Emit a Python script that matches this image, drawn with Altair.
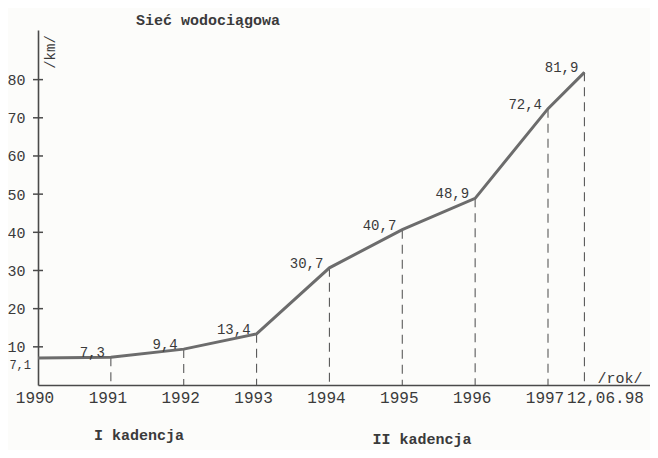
import altair as alt
import pandas as pd

# ---- data ----
x_pos = [1990, 1991, 1992, 1993, 1994, 1995, 1996, 1997, 1997.5]
values = [7.1, 7.3, 9.4, 13.4, 30.7, 40.7, 48.9, 72.4, 81.9]
value_labels = ["7,1", "7,3", "9,4", "13,4", "30,7", "40,7", "48,9", "72,4", "81,9"]
year_pos = [1990, 1991, 1992, 1993, 1994, 1995, 1996, 1997]
year_labels = ["1990", "1991", "1992", "1993", "1994", "1995", "1996", "1997"]
last_pos = [1997.5]
last_label = ["12,06.98"]
y_ticks = [10, 20, 30, 40, 50, 60, 70, 80]
title_text = ["Sieć wodociągowa"]
y_unit = ["/km/"]
x_unit = ["/rok/"]
term1 = ["I kadencja"]
term2 = ["II kadencja"]

# ---- style ----
FONT = "Liberation Mono"
TEXT = "#3a3a3a"
AXIS = "#4a4a4a"
LINE = "#6c6c6c"
W, H = 612, 355

xs = alt.Scale(domain=[1990, 1998.4], nice=False, zero=False)
ys = alt.Scale(domain=[0, 93], nice=False, zero=True)

df = pd.DataFrame({"x": x_pos, "v": values, "lab": value_labels})
base = alt.Chart(df)

x_axis = alt.Axis(title=None, labels=False, ticks=False, grid=False,
                  domainColor=AXIS, domainWidth=1.6)
y_axis = alt.Axis(title=None, values=y_ticks, ticks=False, grid=False,
                  domainColor=AXIS, domainWidth=1.6, labelPadding=13,
                  labelFont=FONT, labelFontSize=15, labelColor=TEXT)

line = base.mark_line(color=LINE, strokeWidth=3).encode(
    x=alt.X("x:Q", scale=xs, axis=x_axis),
    y=alt.Y("v:Q", scale=ys, axis=y_axis),
)

drops = base.transform_filter(alt.datum.x > 1990).mark_rule(
    color="#5a5a5a", strokeWidth=1.1, strokeDash=[9, 6]
).encode(
    x=alt.X("x:Q", scale=xs),
    y=alt.Y("v:Q", scale=ys),
    y2=alt.datum(0),
)

yticks = alt.Chart(pd.DataFrame({"v": y_ticks})).mark_rule(
    color=AXIS, strokeWidth=1.5
).encode(
    y=alt.Y("v:Q", scale=ys),
    x=alt.value(-5),
    x2=alt.value(5),
)

point_labels = base.transform_filter(alt.datum.x > 1990).mark_text(
    align="right", baseline="middle", dx=-6, dy=-4,
    font=FONT, fontSize=14, color=TEXT
).encode(
    x=alt.X("x:Q", scale=xs),
    y=alt.Y("v:Q", scale=ys),
    text="lab:N",
)

first_label = base.transform_filter(alt.datum.x == 1990).mark_text(
    align="right", baseline="middle", dx=-7, dy=7,
    font=FONT, fontSize=12, color=TEXT
).encode(
    x=alt.X("x:Q", scale=xs),
    y=alt.Y("v:Q", scale=ys),
    text="lab:N",
)

years = alt.Chart(pd.DataFrame({"x": year_pos, "lab": year_labels})).mark_text(
    align="center", baseline="middle", dx=-3,
    font=FONT, fontSize=16, color=TEXT
).encode(
    x=alt.X("x:Q", scale=xs),
    y=alt.value(H + 13),
    text="lab:N",
)

last = alt.Chart(pd.DataFrame({"x": last_pos, "lab": last_label})).mark_text(
    align="center", baseline="middle", dx=21,
    font=FONT, fontSize=16, color=TEXT
).encode(
    x=alt.X("x:Q", scale=xs),
    y=alt.value(H + 13),
    text="lab:N",
)


def note(txt, px, py, size=15, bold=False, angle=0):
    kw = dict(align="center", baseline="middle", font=FONT, fontSize=size,
              color=TEXT, fontWeight="bold" if bold else "normal")
    if angle:
        kw["angle"] = angle
    return alt.Chart(pd.DataFrame({"t": txt})).mark_text(**kw).encode(
        x=alt.value(px), y=alt.value(py), text="t:N"
    )


title = note(title_text, 170, -10, size=15, bold=True)
km = note(y_unit, 13, 22, size=14, angle=270)
rok = note(x_unit, 582, H - 7, size=15)
k1 = note(term1, 101, 405, size=15, bold=True)
k2 = note(term2, 384, 409, size=15, bold=True)

chart = alt.layer(
    drops, line, yticks, point_labels, first_label, years, last,
    title, km, rok, k1, k2
).properties(
    width=W, height=H,
    autosize=alt.AutoSizeParams(type="none"),
    padding={"left": 30, "top": 22, "right": 0, "bottom": 65},
    background="#fcfcfa",
).configure_view(stroke=None)

chart.save("out.html", embed_options={"renderer": "svg", "actions": False})
